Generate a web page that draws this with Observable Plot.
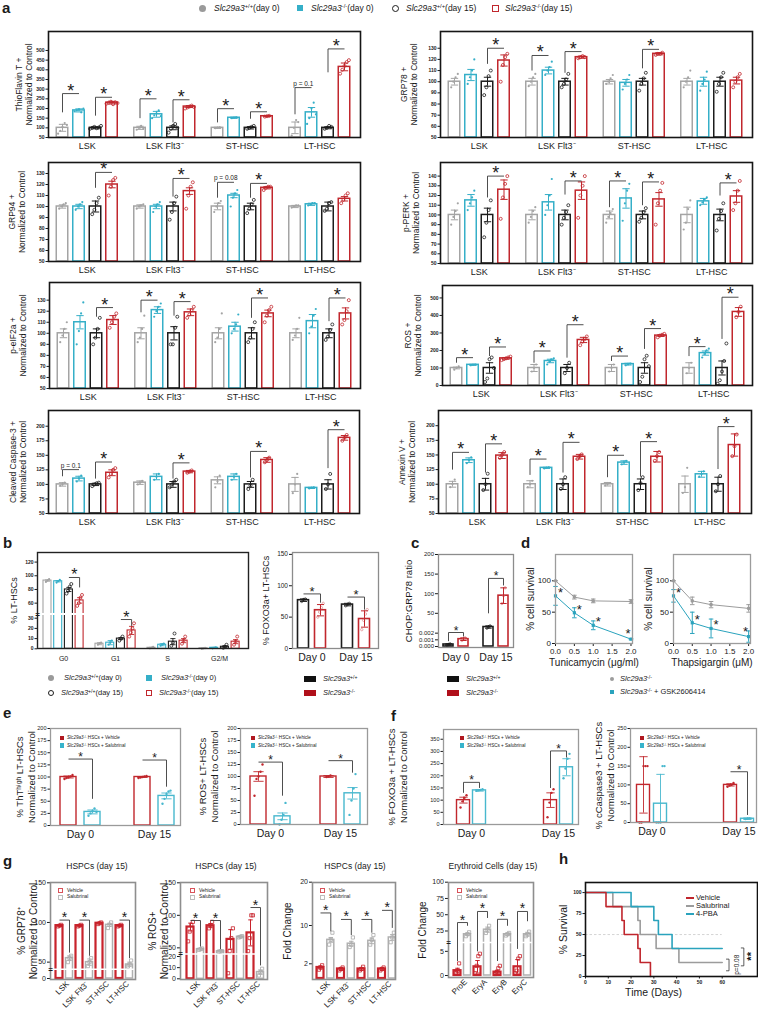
<!DOCTYPE html>
<html><head><meta charset="utf-8">
<script src="https://cdn.jsdelivr.net/npm/d3@7"></script>
<script src="https://cdn.jsdelivr.net/npm/@observablehq/plot@0.6"></script>
<style>
html,body{margin:0;padding:0;background:#fff;}
#fig{position:relative;width:758px;height:1009px;overflow:hidden;background:#fff;font-family:"Liberation Sans",Arial,Helvetica,sans-serif;color:#1a1a1a;}
#fig .pl{position:absolute;}
#fig .pl svg{display:block;overflow:visible;}
.plab{position:absolute;font-weight:bold;font-size:15px;line-height:15px;}
.lg{position:absolute;white-space:nowrap;}
.lg sup{font-size:68%;vertical-align:0.45em;line-height:0;}
.mk{position:absolute;box-sizing:border-box;}
.ttl{position:absolute;white-space:nowrap;transform:translateX(-50%);}
</style></head>
<body><div id="fig"></div>
<script>
// ================= DATA =================
const cellTypes = ["LSK", "LSK Flt3\u207B", "ST-HSC", "LT-HSC"];
// group order: WT day0, KO day0, WT day15, KO day15 ; arrays are [group][cellType]
const thtMean = [[100,100,100,100],[190,170,152,180],[100,100,100,100],[230,210,160,415]];
const thtSem  = [[18,8,3,30],[8,15,3,25],[5,10,6,5],[7,5,2,20]];
const thtPts  = [[[70,85,105,125,115],[90,100,110,95],[98,100,102],[60,100,140,130]],
  [[185,190,195,180,200],[150,165,175,190,160],[150,152,154],[120,150,200,230,170]],
  [[95,100,105,98,102,110],[75,95,110,120,100],[95,100,105,110],[95,100,110,105]],
  [[225,230,235,222,232,228],[200,205,210,215,208],[158,160,162],[380,400,420,440,450]]];
const thtSig = [[0,0,1,277,180,null,"*"],[0,2,3,258,163,null,"*"],[1,0,1,250,150,null,"*"],[1,2,3,245,128,null,"*"],[2,0,1,199,128,null,"*"],[2,2,3,183,147,null,"*"],[3,0,1,308,170,null,"p = 0.1"],[3,2,3,508,387,null,"*"]];

const g78Mean = [[100,100,100,100],[106,110,99,100],[100,100,100,100],[119,122,125,101]];
const g78Sem  = [[3,3,2,3],[5,3,3,4],[4,3,3,4],[5,1,1,3]];
const g78Pts  = [[[95,100,104,107],[96,100,104,107],[98,100,103,106],[95,100,104,110]],
  [[98,104,110,120],[106,110,113,118],[93,98,102,106],[92,98,102,109]],
  [[88,95,105,110],[95,98,102,107],[92,98,103,108],[91,98,104,108]],
  [[100,115,122,125],[121,122,123,122],[124,125,125,126],[95,100,104,107]]];
const g78Sig = [[0,2,3,130,116,null,"*"],[1,0,1,123.5,110,null,"*"],[1,2,3,127,108,null,"*"],[2,2,3,129,112,null,"*"]];

const g94Mean = [[100,100,100,100],[100,100,110,102],[100,100,100,100],[120,114,117,107]];
const g94Sem  = [[1.5,1.5,3,1],[2,2,2,1],[5,4,3,4],[3,3,1,2]];
const g94Pts  = [[[98,100,102,103],[98,100,101,102],[95,100,103,105],[99,100,101,101]],
  [[97,100,102,104],[95,100,102,104],[100,108,112,115],[101,102,103,103]],
  [[93,97,103,108],[88,95,103,109],[94,98,102,106],[96,98,103,104]],
  [[110,118,124,126],[98,110,118,122],[115,117,118,118],[103,106,110,112]]];
const g94Sig = [[0,2,3,131,117,null,"*"],[1,2,3,125.5,109,null,"*"],[2,0,1,122,108,null,"p = 0.08"],[2,2,3,121,108,null,"*"]];

const perkMean = [[100,100,100,100],[115,113,117,114],[100,100,100,100],[126,125,116,119]];
const perkSem  = [[5,5,4,8],[6,8,10,3],[7,5,4,6],[10,9,7,6]];
const perkPts  = [[[90,98,104,112],[92,98,104,108],[92,98,102,106],[85,92,106,115]],
  [[105,112,118,125],[100,110,120,137],[94,112,125,132],[110,113,116,118]],
  [[77,92,105,115],[90,97,103,110],[93,97,103,107],[84,96,104,112]],
  [[96,118,132,140],[97,120,130,140],[90,112,125,133],[105,112,125,135]]];
const perkSig = [[0,2,3,140,118,null,"*"],[1,2,3,135,121,null,"*"],[2,0,1,135,108,null,"*"],[2,2,3,134,110,null,"*"],[3,2,3,133,120,null,"*"]];

const eifMean = [[100,100,100,100],[110,121,106,111],[100,100,100,100],[112,119,118,118]];
const eifSem  = [[4,5,5,4],[6,3,4,6],[4,6,5,4],[4,3,3,5]];
const eifPts  = [[[92,98,104,110],[92,96,104,116],[92,96,104,118],[94,98,104,114]],
  [[90,102,118,128],[115,120,124,127],[100,104,108,117],[100,106,116,122]],
  [[90,96,104,114],[90,90,105,115],[92,96,104,110],[94,97,103,108]],
  [[105,110,115,118],[114,117,121,124],[110,116,121,124],[108,112,120,130]]];
const eifSig = [[0,2,3,123.3,115,null,"*"],[1,0,1,130,119,null,"*"],[1,2,3,128.7,116,null,"*"],[2,2,3,132,114,null,"*"],[3,2,3,132,111,null,"*"]];

const rosMean = [[100,100,100,100],[118,140,122,185],[100,100,100,100],[155,260,285,420]];
const rosSem  = [[5,20,20,30],[3,10,5,12],[30,20,30,40],[5,15,5,25]];
const rosPts  = [[[90,100,110],[80,100,120],[80,100,120],[70,100,130]],
  [[115,118,120],[120,135,150,155],[115,120,125],[160,180,200,210]],
  [[20,40,150,160,100],[70,100,130],[20,50,150,170,110],[10,30,80,140,240]],
  [[145,150,155,160,165],[230,250,265,280],[275,285,290,295],[390,420,450]]];
const rosSig = [[0,0,1,159,130,null,"*"],[0,2,3,220,168,null,"*"],[1,0,1,197,130,null,"*"],[1,2,3,347,159,null,"*"],[2,0,1,168,140,null,"*"],[2,2,3,325,209,null,"*"],[3,0,1,222,168,null,"*"],[3,2,3,504,266,null,"*"]];

const casMean = [[100,103,107,100],[110,113,113,94],[100,100,100,100],[120,122,142,180]];
const casSem  = [[3,3,6,12],[4,5,5,1],[2,5,5,8],[5,2,4,4]];
const casPts  = [[[98,100,103],[100,103,106],[95,105,115],[85,100,118]],
  [[105,110,115],[108,113,118],[108,113,118],[93,94,95]],
  [[97,100,102,103],[95,100,105,108],[92,98,108],[92,100,118]],
  [[112,118,125,128],[120,122,124],[138,142,146],[175,180,185]]];
const casSig = [[0,0,1,125.4,114,null,"p = 0.1"],[0,2,3,138.5,110,null,"*"],[1,2,3,137,110,null,"*"],[2,2,3,156.7,112,null,"*"],[3,2,3,194,128,null,"*"]];

const annMean = [[100,100,100,100],[141,128,137,117],[100,100,100,100],[149,147,147,167]];
const annSem  = [[5,6,3,14],[4,1,3,5],[10,9,9,12],[5,4,9,19]];
const annPts  = [[[95,100,108],[95,100,106],[98,100,102],[85,95,128]],
  [[136,141,146],[127,128,129],[134,137,140],[113,117,122]],
  [[90,100,118],[92,100,112],[90,102,112],[88,100,114]],
  [[145,150,155],[143,147,151],[140,148,155],[148,165,185]]];
const annSig = [[0,0,1,154.5,125,null,"*"],[0,2,3,169,120,null,"*"],[1,0,1,143,116,null,"*"],[1,2,3,171.6,120,null,"*"],[2,0,1,149.5,112,null,"*"],[2,2,3,172.8,113,null,"*"],[3,2,3,198.5,126,null,"*"]];

// panel b
const phases = ["G0", "G1", "S", "G2/M"];
const ccMean = [[93,5,1,0.5],[92,6,4,1],[80,10,7,2],[64,18,8,7]];
const ccSem  = [[1,1,0.5,0.3],[1,2,1,0.4],[3,1,3,1],[4,4,2,2]];
const ccPts  = [[[91,93,95],[4,5,6],[0.5,1,2],[0,0.5,1]],
  [[90,92,94],[4,6,8],[3,4,5],[0.5,1,1.5]],
  [[74,78,84,88],[8,10,12],[3,6,15],[1,2,4]],
  [[56,60,68,72],[12,16,20,25],[5,8,12],[4,7,12]]];
const ccSig = [[0,2,3,97.5,null,83,"*"],[1,2,3,28.7,null,22.5,"*"]];

const days = ["Day 0", "Day 15"];
const foxMean = [[77,70],[61,47]];
const foxSem  = [[2,2],[9,13]];
const foxPts  = [[[75,78,79],[68,70,72]],[[50,58,65,72],[30,45,55,62]]];
const foxSig  = [[0,0,1,87,null,73,"*"],[1,0,1,82,null,62,"*"]];

// panel c
const chopMean = [[0.0003,15],[0.0011,95]];
const chopSem  = [[0.0001,3],[0.0002,20]];
const chopPts  = [[[0.0002,0.0003,0.0004],[12,15,18]],[[0.0009,0.0011,0.0013],[75,95,115]]];
const chopSig  = [[0,0,1,0.0021,0.0008,0.0015,"*"],[1,0,1,139,50,121,"*"]];

// panel d
const doses = [0, 0.5, 1.0, 2.0];
const doseTicks = [0, 0.5, 1.0, 1.5, 2.0];
const tuniKO = [100,74,68,67], tuniKOsem = [0,3,3,3];
const tuniGSK = [76,49,29,7], tuniGSKsem = [15,8,7,1];
const thapKO = [100,68,62,56], thapKOsem = [0,6,5,6];
const thapGSK = [76,33,24,11], thapGSKsem = [10,17,15,9];

// panel e
const thtSalMean = [[100,100],[28,61]];
const thtSalSem  = [[2,1],[4,6]];
const thtSalPts  = [[[96,98,99,101,104],[98,99,100,101,102]],[[20,25,30,35,28],[45,55,65,70,72]]];
const thtSalSig  = [[0,0,1,137,null,55,"*"],[1,0,1,135,null,80,"*"]];
const rosSalMean = [[100,100],[17,65]];
const rosSalSem  = [[10,2],[7,12]];
const rosSalPts  = [[[60,95,100,110,125],[99,100,102]],[[0,10,20,45],[20,50,75,105]]];
const rosSalSig  = [[0,0,1,130,null,60,"*"],[1,0,1,133,null,108,"*"]];

// panel f
const foxSalMean = [[100,100],[140,235]];
const foxSalSem  = [[12,30],[3,35]];
const foxSalPts  = [[[70,95,110,120],[30,90,130,145]],[[138,140,142,145],[190,230,270,290]]];
const foxSalSig  = [[0,0,1,173,130,150,"*"],[1,0,1,302,150,275,"*"]];
const casSalMean = [[100,100],[50,10]];
const casSalSem  = [[75,3],[78,2]];
const casSalPts  = [[[0,0,150,150,150],[95,98,100,105]],[[0,0,0,150,150],[9,10,11]]];
const casSalSig  = [[1,0,1,135,null,20,"*"]];

// panel g  ([vehicle, salubrinal][cell type])
const hspc = ["LSK", "LSK Flt3\u207B", "ST-HSC", "LT-HSC"];
const ery = ["ProE", "EryA", "EryB", "EryC"];
const gGrpMean = [[96,96,99,96],[55,50,97,47]];
const gGrpSem  = [[1,1,1,1],[3,4,2,3]];
const gGrpPts  = [[[95,96,97],[95,96,97],[98,99,100],[95,96,97]],[[50,55,58],[45,50,55],[93,97,100],[43,47,52]]];
const gGrpSig  = [[0,0,1,103,null,62,"*"],[1,0,1,103,null,58,"*"],[3,0,1,103,null,55,"*"]];
const gRosMean = [[82,84,63,73],[48,44,67,6]];
const gRosSem  = [[6,3,15,20],[1,1,1,2]];
const gRosPts  = [[[60,75,85,90],[80,85,90],[5,45,65,80],[45,65,100,100]],[[47,48,49],[43,44,45],[66,67,68],[3,6,9]]];
const gRosSig  = [[0,0,1,92,null,52,"*"],[1,0,1,92,null,48,"*"],[3,0,1,112,null,12,"*"]];
const gFcMean = [[1.5,1.3,1.3,1.3],[7,6.2,6.8,7.5]];
const gFcSem  = [[0.2,0.2,0.2,0.2],[0.5,0.5,0.6,0.6]];
const gFcPts  = [[[1.2,1.5,1.8],[1.1,1.3,1.5],[1.1,1.3,1.6],[1.1,1.3,1.5]],[[6,7,8.5],[5.5,6,7.5],[6,7,8],[6.5,7.5,8.5]]];
const gFcSig  = [[0,0,1,12.9,null,8.8,"*"],[1,0,1,11.4,null,8,"*"],[2,0,1,11.4,null,8.5,"*"],[3,0,1,13.5,null,9.5,"*"]];
const gEryMean = [[1,1.8,0.7,1.8],[20,27,20,20]];
const gErySem  = [[0.5,1.3,0.4,1.5],[2,4,2,3]];
const gEryPts  = [[[0.5,1,2.5],[0.5,2,4,4.5],[0.3,0.7,1.5,2],[0.5,1,3.5,4]],[[17,20,23],[22,27,33],[18,20,22],[17,20,24]]];
const gErySig  = [[0,0,1,38,3,33,"*"],[1,0,1,55,5,45,"*"],[2,0,1,43,3,33,"*"],[3,0,1,55,5.5,40,"*"]];

// panel h (Kaplan-Meier)
const vehT = [0,9,16,17,23,24,28.5], vehS = [100,83.3,66.7,50,33.3,16.7,0];
const salT = [0,12,23,24,31,41,60],  salS = [100,83.3,66.7,50,33.3,16.7,16.7];
const pbaT = [0,20,30,32,38,60],     pbaS = [100,83.3,66.7,50,33.3,33.3];

// ticks
const tkTht = [50,100,150,200,250,300,350,400,450,500];
const tk130 = [50,60,70,80,90,100,110,120,130];
const tk140 = [50,60,70,80,90,100,110,120,130,140];
const tkRos = [0,100,200,300,400,500];
const tk25  = [50,75,100,125,150,175,200];

// ================= STYLE =================
const GREY = "#a4a4a4", TEAL = "#35afc8", BLK = "#1c1c1c", RED = "#c1272d";
const FONT = "'Liberation Sans', Arial, Helvetica, sans-serif";
const fig = document.getElementById("fig");

function place(node, left, top) {
  const d = document.createElement("div");
  d.className = "pl"; d.style.left = left + "px"; d.style.top = top + "px";
  d.appendChild(node); fig.appendChild(d);
}
function txt(x, yc, html, fs) {
  const d = document.createElement("div");
  d.className = "lg";
  d.style.left = x + "px"; d.style.top = (yc - fs * 0.62) + "px";
  d.style.fontSize = fs + "px"; d.style.lineHeight = (fs * 1.2) + "px";
  d.innerHTML = html; fig.appendChild(d);
}
function mk(kind, cx, cy, color, size) {
  const d = document.createElement("div");
  d.className = "mk";
  let w = size, h = size;
  if (kind === "rect") { w = size * 1.9; h = size * 0.85; }
  if (kind === "line") { w = size * 1.4; h = 2; }
  d.style.left = (cx - w / 2) + "px"; d.style.top = (cy - h / 2) + "px";
  d.style.width = w + "px"; d.style.height = h + "px";
  if (kind === "dot" || kind === "odot") d.style.borderRadius = "50%";
  if (kind[0] === "o") d.style.border = "1.6px solid " + color; else d.style.background = color;
  fig.appendChild(d);
}
function ttl(cx, yc, html, fs) {
  const d = document.createElement("div");
  d.className = "ttl"; d.style.left = cx + "px"; d.style.top = (yc - fs * 0.62) + "px";
  d.style.fontSize = fs + "px"; d.style.lineHeight = (fs * 1.2) + "px"; d.innerHTML = html;
  fig.appendChild(d);
}
function plab(ch, x, y) {
  const d = document.createElement("div");
  d.className = "plab"; d.style.left = x + "px"; d.style.top = y + "px"; d.textContent = ch;
  fig.appendChild(d);
}
const S = sup => `<i>Slc29a3</i><sup>${sup}</sup>`;

// ================= BAR PANEL HELPER =================
function barPanel(P) {
  const [x0, y0, x1, y1] = P.frame;
  const mL = P.mL, mT = P.mT ?? 14, mR = P.mR ?? 12, mB = P.mB ?? 30;
  const fw = x1 - x0, fh = y1 - y0, top = y0 - mT;
  const u = P.unit, pU = P.pitch / u;
  const pos = (c, g) => c * pU + g;
  const nG = P.means.length, nC = P.cats.length;
  // broken (piecewise) axes: data value -> page position, fed to a linear Plot scale
  let fy = v => v, ydom = P.ydomain, yt = P.yticks;
  const baseFmt = P.tickFormat ?? (d => String(d));
  let tf = baseFmt;
  if (P.yrange) {
    const D = P.ydomain, R = P.yrange;
    const interp = v => { let i = 0; while (i < D.length - 2 && v > D[i + 1]) i++; return R[i] + (v - D[i]) / (D[i + 1] - D[i]) * (R[i + 1] - R[i]); };
    fy = v => -interp(v);
    ydom = [-y1, -y0];
    yt = P.yticks.map(fy);
    tf = d => { let best = P.yticks[0], bd = Infinity; for (const t of P.yticks) { const dd = Math.abs(fy(t) - d); if (dd < bd) { bd = dd; best = t; } } return baseFmt(best); };
  }
  const yb = fy(P.ydomain[0]);
  const hb = P.bw / u / 2, cap = (P.cap ?? P.bw * 0.32) / u, jit = (P.jit ?? 2) / u;
  const barM = [], errM = [], dotM = [];
  for (let g = 0; g < nG; g++) {
    const st = P.styles[g];
    const bars = [], pts = [];
    for (let c = 0; c < nC; c++) {
      const m = P.means[g][c], s = P.sems[g][c], x = pos(c, g);
      bars.push({x, m: fy(m), lo: fy(Math.max(m - s, P.ydomain[0])), hi: fy(m + s)});
      const arr = P.points ? P.points[g][c] : [];
      arr.forEach((v, k) => pts.push({x: x + (k - (arr.length - 1) / 2) * jit, v: fy(v)}));
    }
    barM.push(Plot.rect(bars, {x1: d => d.x - hb, x2: d => d.x + hb, y1: () => yb, y2: "m", fill: "white", stroke: st.color, strokeWidth: st.sw ?? P.sw ?? 1.3}));
    dotM.push(Plot.dot(pts, {x: "x", y: "v", r: st.r ?? 1.2, fill: st.fill, stroke: st.stroke, strokeWidth: st.dsw ?? 0.8, symbol: st.symbol ?? "circle"}));
    const ec = st.ecolor ?? st.color, ew = P.ew ?? 1;
    errM.push(Plot.ruleX(bars, {x: "x", y1: "lo", y2: "hi", stroke: ec, strokeWidth: ew}));
    errM.push(Plot.link(bars, {x1: d => d.x - cap, x2: d => d.x + cap, y1: "hi", y2: "hi", stroke: ec, strokeWidth: ew}));
    errM.push(Plot.link(bars, {x1: d => d.x - cap, x2: d => d.x + cap, y1: "lo", y2: "lo", stroke: ec, strokeWidth: ew}));
  }
  const segs = [], stars = [], ptxt = [];
  for (const [c, g1, g2, yv, l1, l2, t] of (P.sig || [])) {
    const xa = pos(c, g1), xb = pos(c, g2), y = fy(yv);
    segs.push({x1: xa, y1: y, x2: xb, y2: y});
    if (l1 != null) segs.push({x1: xa, y1: y, x2: xa, y2: fy(l1)});
    if (l2 != null) segs.push({x1: xb, y1: y, x2: xb, y2: fy(l2)});
    (t.startsWith("p") ? ptxt : stars).push({x: (xa + xb) / 2, y, t});
  }
  const catRows = P.cats.map((name, c) => ({name, x: (pos(c, 0) + pos(c, nG - 1)) / 2}));
  const marks = [...barM];
  if (P.brk != null) marks.push(Plot.ruleY([fy(P.brk)], {stroke: "white", strokeWidth: P.brkW ?? 2.5}));
  marks.push(...dotM, ...errM);
  marks.push(Plot.link(segs, {x1: "x1", y1: "y1", x2: "x2", y2: "y2", stroke: P.bc ?? "#3a3a3a", strokeWidth: P.bsw ?? 0.9}));
  marks.push(Plot.text(stars, {x: "x", y: "y", text: "t", fontSize: P.starSize ?? 18, lineAnchor: "bottom", dy: P.starDy ?? 3, fontWeight: "normal", dx: P.starDx ?? 0}));
  marks.push(Plot.text(ptxt, {x: "x", y: "y", text: "t", fontSize: P.pSize ?? 6.5, lineAnchor: "bottom", dy: -2, fontWeight: "normal"}));
  marks.push(Plot.frame({stroke: P.frameColor ?? "#161616", strokeWidth: P.frameW ?? 1.6}));
  if (P.brk != null) marks.push(Plot.text(["="], {frameAnchor: "left", textAnchor: "middle", y: () => fy(P.brk), text: d => d, fontSize: 8, fontWeight: "bold"}));
  marks.push(Plot.text(catRows, {x: "x", frameAnchor: "bottom", text: "name", dy: P.cdy ?? 11, dx: P.cdx ?? 0, fontSize: P.cfs ?? 9, rotate: P.crot ?? 0, textAnchor: P.crot ? "end" : "middle", fontWeight: "normal"}));
  marks.push(Plot.text([P.ylabel], {frameAnchor: "left", textAnchor: "middle", text: d => d, rotate: -90, dx: P.ldx, fontSize: P.lfs ?? 8.5, lineHeight: 1.18, fontWeight: "normal"}));
  const svg = Plot.plot({
    width: fw + mL + mR, height: fh + mT + mB,
    marginLeft: mL, marginRight: mR, marginTop: mT, marginBottom: mB,
    style: `font-family:${FONT};font-size:${P.tfs ?? 5}px;font-weight:${P.tfw ?? "normal"};background:transparent;overflow:visible;max-width:none;color:#1a1a1a;`,
    x: {domain: [-P.offset / u, (fw - P.offset) / u], axis: null},
    y: {domain: ydom, ticks: yt, tickFormat: tf, tickSize: P.tickSize ?? 2.5, tickPadding: 1.5, label: null},
    marks
  });
  place(svg, x0 - mL, top);
}

// ================= PANEL a =================
const stylesA = [
  {color: GREY, fill: GREY, stroke: "none", r: 1.1},
  {color: TEAL, fill: TEAL, stroke: "none", r: 1.1},
  {color: BLK, fill: "none", stroke: BLK, r: 1.5, dsw: 0.8},
  {color: RED, fill: "none", stroke: RED, r: 1.5, dsw: 0.8}];
const aBase = {cats: cellTypes, styles: stylesA, unit: 16.5, offset: 14, pitch: 77.5, bw: 11.5, sw: 1.5, jit: 2.2, tfs: 5, tfw: "bold", cdy: 11, cfs: 9, lfs: 8.5, starSize: 18};
barPanel({...aBase, frame: [48,31,360,137], mL: 48, ydomain: [50,598], yticks: tkTht, ylabel: "ThioFlavin T +\nNormalized to Control", ldx: -25, means: thtMean, sems: thtSem, points: thtPts, sig: thtSig});
barPanel({...aBase, frame: [440,31,752,137], mL: 60, ydomain: [50,145], yticks: tk130, ylabel: "GRP78 +\nNormalized to Control", ldx: -32, means: g78Mean, sems: g78Sem, points: g78Pts, sig: g78Sig});
barPanel({...aBase, frame: [48,162,360,261], mL: 48, ydomain: [50,140], yticks: tk130, ylabel: "GRP94 +\nNormalized to Control", ldx: -32, means: g94Mean, sems: g94Sem, points: g94Pts, sig: g94Sig});
barPanel({...aBase, frame: [440,162,752,263], mL: 60, ydomain: [50,154], yticks: tk140, ylabel: "p-PERK +\nNormalized to Control", ldx: -30, means: perkMean, sems: perkSem, points: perkPts, sig: perkSig});
barPanel({...aBase, frame: [49,282,360,388], mL: 49, ydomain: [50,146], yticks: tk130, ylabel: "p-eIF2a +\nNormalized to Control", ldx: -32, means: eifMean, sems: eifSem, points: eifPts, sig: eifSig});
barPanel({...aBase, frame: [442,285,752,385], mL: 62, ydomain: [0,571], yticks: tkRos, ylabel: "ROS +\nNormalized to Control", ldx: -30, means: rosMean, sems: rosSem, points: rosPts, sig: rosSig});
barPanel({...aBase, frame: [48,410,359,513], mL: 48, ydomain: [50,227], yticks: tk25, ylabel: "Cleaved Caspase-3 +\nNormalized to Control", ldx: -31, means: casMean, sems: casSem, points: casPts, sig: casSig});
barPanel({...aBase, frame: [438,410,751,513], mL: 58, ydomain: [50,226], yticks: tk25, ylabel: "Annexin V +\nNormalized to Control", ldx: -31.5, means: annMean, sems: annSem, points: annPts, sig: annSig});

// ================= PANEL b =================
barPanel({cats: phases, styles: stylesA, unit: 10.7, offset: 10, pitch: 52, bw: 8, sw: 1.1, jit: 1.6, tfs: 5, tfw: "bold", cdy: 12, cfs: 7, lfs: 9, starSize: 16, ew: 0.9,
  frame: [37,552,248,648], mL: 37, ydomain: [0,30,50,134], yrange: [648.3,617.7,609.5,552], yticks: [0,10,20,30,60,80,100,120],
  brk: 40, brkW: 2, frameColor: "#222", frameW: 1.4,
  ylabel: "% LT-HSCs", ldx: -24, means: ccMean, sems: ccSem, points: ccPts, sig: ccSig});

const stylesFox = [{color: BLK, fill: "none", stroke: BLK, r: 1.2, dsw: 0.6}, {color: RED, fill: "none", stroke: "#d9777b", r: 1.2, dsw: 0.6}];
barPanel({cats: days, styles: stylesFox, unit: 17, offset: 11, pitch: 44, bw: 11, sw: 1.6, jit: 1.8, tfs: 6.5, cdy: 12, cfs: 10.5, lfs: 9, starSize: 13, starDy: 2,
  frame: [292,552,378,648], mL: 50, ydomain: [0,153], yticks: [0,50,100,150], frameColor: "#8c8c8c", frameW: 1.3, tickSize: 3,
  ylabel: "% FOXO3a+ LT-HSCs", ldx: -27, means: foxMean, sems: foxSem, points: foxPts, sig: foxSig});

// ================= PANEL c =================
barPanel({cats: days, styles: stylesFox, unit: 15, offset: 10, pitch: 40, bw: 10, sw: 1.6, jit: 1.6, tfs: 6, cdy: 13, cfs: 10.5, lfs: 9.5, starSize: 12, starDy: 2,
  frame: [438,554,513,647], mL: 52, ydomain: [0,0.0024,10,200], yrange: [646,630,628.5,554], yticks: [0,0.001,0.002,50,100,150,200],
  tickFormat: d => d < 1 ? d.toFixed(3) : String(d), frameColor: "#8c8c8c", frameW: 1.3, tickSize: 3,
  ylabel: "CHOP:GRP78 ratio", ldx: -30, means: chopMean, sems: chopSem, points: chopPts, sig: chopSig});

// ================= PANEL d =================
function dosePanel(P) {
  const [x0, y0, x1, y1] = P.frame, mL = 42, mT = 10, mR = 10, mB = 32;
  const rows = (means, sems) => doses.map((d, i) => ({d, m: means[i], lo: means[i] - sems[i], hi: means[i] + sems[i]}));
  const G = rows(P.gm, P.gs), T = rows(P.tm, P.ts);
  const capW = 0.06;
  const marks = [];
  for (const [R, c, sym] of [[G, "#9c9c9c", "circle"], [T, "#2aa3bd", "square"]]) {
    marks.push(Plot.line(R, {x: "d", y: "m", stroke: c, strokeWidth: 1}));
    marks.push(Plot.ruleX(R, {x: "d", y1: "lo", y2: "hi", stroke: c, strokeWidth: 1}));
    marks.push(Plot.link(R, {x1: r => r.d - capW, x2: r => r.d + capW, y1: "hi", y2: "hi", stroke: c}));
    marks.push(Plot.link(R, {x1: r => r.d - capW, x2: r => r.d + capW, y1: "lo", y2: "lo", stroke: c}));
    marks.push(Plot.dot(R, {x: "d", y: "m", r: 1.8, fill: c, symbol: sym}));
  }
  marks.push(Plot.text(T.slice(0, 3), {x: "d", y: "m", text: () => "*", fontSize: 13, lineAnchor: "bottom", dx: 5, dy: 1}));
  marks.push(Plot.text(T.slice(3), {x: "d", y: "m", text: () => "*", fontSize: 13, lineAnchor: "bottom", dx: -3, dy: -1}));
  marks.push(Plot.frame({stroke: "#9c9c9c", strokeWidth: 1.3}));
  marks.push(Plot.text([P.xlabel], {frameAnchor: "bottom", textAnchor: "middle", text: d => d, dy: 22, fontSize: 10}));
  marks.push(Plot.text([P.ylabel], {frameAnchor: "left", textAnchor: "middle", text: d => d, rotate: -90, dx: P.ldx, fontSize: 10}));
  const svg = Plot.plot({
    width: x1 - x0 + mL + mR, height: y1 - y0 + mT + mB, marginLeft: mL, marginRight: mR, marginTop: mT, marginBottom: mB,
    style: `font-family:${FONT};font-size:8px;background:transparent;overflow:visible;max-width:none;color:#1a1a1a;`,
    x: {domain: P.xdomain, ticks: doseTicks, tickFormat: d => d.toFixed(1), tickSize: 3, tickPadding: 1.5, label: null},
    y: {domain: [0, 142], ticks: [0, 50, 100], tickSize: 3, tickPadding: 1.5, label: null},
    marks
  });
  place(svg, x0 - mL, y0 - mT);
}
dosePanel({frame: [555,554,632,643], xdomain: [0, 2.04], gm: tuniKO, gs: tuniKOsem, tm: tuniGSK, ts: tuniGSKsem, xlabel: "Tunicamycin (\u03BCg/ml)", ylabel: "% cell survival", ldx: -25});
dosePanel({frame: [673,554,750,643], xdomain: [0, 2.05], gm: thapKO, gs: thapKOsem, tm: thapGSK, ts: thapGSKsem, xlabel: "Thapsigargin (\u03BCM)", ylabel: "% cell survival", ldx: -25});

// ================= PANEL e / f =================
const stylesE = [{color: RED, fill: RED, stroke: "none", r: 1.2}, {color: "#48b8ce", fill: "#48b8ce", stroke: "none", r: 1.2}];
const efBase = {cats: days, styles: stylesE, sw: 1.4, jit: 2, tfs: 5.5, cdy: 12, cfs: 10.5, lfs: 9.5, starSize: 12, starDy: 2, frameColor: "#9a9a9a", frameW: 1.3, ew: 0.9};
barPanel({...efBase, unit: 24, offset: 18, pitch: 74, bw: 16, frame: [50,728,180,825], mL: 50, ydomain: [0,200], yticks: [0,25,50,75,100,125,150,175,200],
  ylabel: "% ThT\u02B0\u2071\u1D4D\u02B0 LT-HSCs\nNormalized to Control", ldx: -25, means: thtSalMean, sems: thtSalSem, points: thtSalPts, sig: thtSalSig});
barPanel({...efBase, unit: 24, offset: 18, pitch: 70, bw: 16, frame: [240,728,367,824], mL: 50, ydomain: [0,200], yticks: [0,25,50,75,100,125,150,175,200],
  ylabel: "% ROS+ LT-HSCs\nNormalized to Control", ldx: -32, means: rosSalMean, sems: rosSalSem, points: rosSalPts, sig: rosSalSig});
barPanel({...efBase, unit: 16, offset: 20, pitch: 87, bw: 13, frame: [443,729,578,824], mL: 60, ydomain: [0,390], yticks: [0,50,100,150,200,250,300,350],
  ylabel: "% FOXO3a + LT-HSCs\nNormalized to Control", ldx: -46, means: foxSalMean, sems: foxSalSem, points: foxSalPts, sig: foxSalSig});
barPanel({...efBase, unit: 17, offset: 13, pitch: 87, bw: 13, mR: 2, frame: [630,728,756,822], mL: 40, ydomain: [0,250], yticks: [0,50,100,150,200,250],
  ylabel: "% cCaspase3 + LT-HSCs\nNormalized to Control", ldx: -26, means: casSalMean, sems: casSalSem, points: casSalPts, sig: casSalSig});

// ================= PANEL g =================
const stylesG = [{color: "#c8232c", fill: "none", stroke: "#c8232c", r: 1.8, dsw: 0.8, symbol: "square", sw: 2.2},
                 {color: "#b0b0b0", fill: "none", stroke: "#a8a8a8", r: 1.8, dsw: 0.8, symbol: "square", sw: 1.5}];
const gBase = {styles: stylesG, unit: 10, offset: 9, pitch: 20, bw: 7, jit: 1.6, tfs: 7, cdy: 5, cdx: 5, crot: -45, cfs: 8, lfs: 10, starSize: 14, starDy: 2, frameColor: "#8e8e8e", frameW: 1.6, ew: 1, mB: 36, tickSize: 3};
barPanel({...gBase, cats: hspc, frame: [50,882,135,979], mL: 50, ydomain: [0,5,45,150], yrange: [978,972,965.6,882.3], yticks: [0,50,100,150], brk: 25, brkW: 1.5,
  ylabel: "% GRP78\u207A\nNormalized to Control", ldx: -23, means: gGrpMean, sems: gGrpSem, points: gGrpPts, sig: gGrpSig});
barPanel({...gBase, cats: hspc, offset: 10, frame: [180,882,267,979], mL: 50, ydomain: [0,20,45,150], yrange: [978.3,956,950.6,882.3], yticks: [0,10,20,50,100,150], brk: 32, brkW: 1.5,
  ylabel: "% ROS+\nNormalized to Control", ldx: -22.5, means: gRosMean, sems: gRosSem, points: gRosPts, sig: gRosSig});
barPanel({...gBase, cats: hspc, offset: 8, unit: 10.3, pitch: 20.5, frame: [312,882,395,979], mL: 50, ydomain: [0,2,10,20], yrange: [978,963.3,925,881.7], yticks: [2,10,20],
  ylabel: "Fold Change", ldx: -25, means: gFcMean, sems: gFcSem, points: gFcPts, sig: gFcSig});
barPanel({...gBase, cats: ery, frame: [448,882,533,977], mL: 50, ydomain: [0,6,15,100], yrange: [975,946,937,881.7], yticks: [0,5,25,50,75,100], brk: 10, brkW: 1.5,
  ylabel: "Fold Change", ldx: -26, means: gEryMean, sems: gErySem, points: gEryPts, sig: gErySig});

// ================= PANEL h =================
(function () {
  const x0 = 585, y0 = 882, x1 = 757, y1 = 976, mL = 50, mT = 10, mR = 1, mB = 28;
  const rows = (T, Sv) => T.map((t, i) => ({t, s: Sv[i]}));
  const brs = [{x: 69.5, a: 34, b: 12.7}, {x: 63, a: 20.7, b: 6.8}];
  const marks = [
    Plot.ruleY([50], {x1: () => 0, x2: () => 60, stroke: "#c9c9c9", strokeDasharray: "2.5,2", strokeWidth: 0.8}),
    Plot.line(rows(salT, salS), {x: "t", y: "s", curve: "step-after", stroke: "#9c9c9c", strokeWidth: 1.6}),
    Plot.line(rows(pbaT, pbaS), {x: "t", y: "s", curve: "step-after", stroke: "#2aa3bd", strokeWidth: 1.6}),
    Plot.line(rows(vehT, vehS), {x: "t", y: "s", curve: "step-after", stroke: "#c0262d", strokeWidth: 1.6}),
    Plot.link(brs, {x1: "x", x2: "x", y1: "a", y2: "b", stroke: "#333", strokeWidth: 0.8}),
    Plot.link(brs, {x1: d => d.x - 1.3, x2: "x", y1: "a", y2: "a", stroke: "#333", strokeWidth: 0.8}),
    Plot.link(brs, {x1: d => d.x - 1.3, x2: "x", y1: "b", y2: "b", stroke: "#333", strokeWidth: 0.8}),
    Plot.text([{x: 66.3, y: 14, t: "p=0.08"}], {x: "x", y: "y", text: "t", rotate: -90, fontSize: 6.5, fontWeight: "normal"}),
    Plot.text([{x: 73, y: 24, t: "**"}], {x: "x", y: "y", text: "t", rotate: -90, fontSize: 11, fontWeight: "bold"}),
    Plot.frame({stroke: "#111", strokeWidth: 1.6}),
    Plot.text(["Time (Days)"], {frameAnchor: "bottom", textAnchor: "middle", text: d => d, dy: 19, dx: -18, fontSize: 10.5, fontWeight: "normal"}),
    Plot.text(["% Survival"], {frameAnchor: "left", textAnchor: "middle", text: d => d, rotate: -90, dx: -22, fontSize: 10.5, fontWeight: "normal"})
  ];
  const svg = Plot.plot({
    width: x1 - x0 + mL + mR, height: y1 - y0 + mT + mB, marginLeft: mL, marginRight: mR, marginTop: mT, marginBottom: mB,
    style: `font-family:${FONT};font-size:5px;font-weight:bold;background:transparent;overflow:visible;max-width:none;color:#1a1a1a;`,
    x: {domain: [0, 75.5], ticks: [0,10,20,30,40,50,60], tickSize: 2.5, tickPadding: 1.5, label: null},
    y: {domain: [0, 112], ticks: [0,25,50,75,100], tickSize: 2.5, tickPadding: 1.5, label: null},
    marks
  });
  place(svg, x0 - mL, y0 - mT);
})();

// ================= LEGENDS / LABELS =================
plab("a", 2, 0); plab("b", 3, 535); plab("c", 411, 535); plab("d", 521, 535);
plab("e", 3, 705); plab("f", 391, 708); plab("g", 3, 853); plab("h", 559, 851);

// top legend
mk("dot", 202, 8, "#9a9a9a", 7); txt(214, 8, S("+/+") + "(day 0)", 8.5);
mk("sq", 300, 8, TEAL, 6.5); txt(311, 8, S("-/-") + "(day 0)", 8.5);
mk("odot", 395, 8, BLK, 7); txt(406, 8, S("+/+") + "(day 15)", 8.5);
mk("osq", 495, 8, RED, 7); txt(505, 8, S("-/-") + "(day 15)", 8.5);

// b legends
mk("dot", 51, 678, "#9a9a9a", 6.5); txt(64, 678, S("+/+") + "(day 0)", 7.5);
mk("sq", 149, 678, TEAL, 6); txt(161, 678, S("-/-") + "(day 0)", 7.5);
mk("odot", 51, 693, BLK, 6.5); txt(61, 693, S("+/+") + "(day 15)", 7.5);
mk("osq", 149, 693, RED, 6.5); txt(159, 693, S("-/-") + "(day 15)", 7.5);
mk("rect", 310, 679, "#111", 6); txt(323, 679, S("+/+"), 7.5);
mk("rect", 310, 693, "#b00f1a", 6); txt(323, 693, S("-/-"), 7.5);
// c legend
mk("rect", 453, 679, "#111", 6); txt(466, 679, S("+/+"), 7.5);
mk("rect", 453, 693, "#b00f1a", 6); txt(466, 693, S("-/-"), 7.5);
// d legend
mk("dot", 612, 679, "#9c9c9c", 4); txt(620, 679, S("-/-"), 7.5);
mk("sq", 612, 692, "#2aa3bd", 4.5); txt(620, 692, S("-/-") + " + GSK2606414", 7.5);

// e/f inner legends
for (const [x] of [[62], [253], [462], [642]]) {
  mk("sq", x, 738, "#b01820", 4.5); txt(x + 5, 738, S("-/-") + " HSCs + Vehicle", 4.6);
  mk("sq", x, 745.5, "#36b3cb", 4.5); txt(x + 5, 745.5, S("-/-") + " HSCs + Salubrinal", 4.6);
}
// g inner legends + titles
for (const [x] of [[60], [192], [322], [459]]) {
  mk("osq", x, 890, "#d9535a", 5); txt(x + 7, 890, "Vehicle", 5);
  mk("osq", x, 897, "#bdbdbd", 5); txt(x + 7, 897, "Salubrinal", 4.8);
}
ttl(97, 866, "HSPCs (day 15)", 8.5);
ttl(226, 866, "HSPCs (day 15)", 8.5);
ttl(355, 866, "HSPCs (day 15)", 8.5);
ttl(493, 866, "Erythroid Cells (day 15)", 8.5);
// h legend
mk("line", 690, 898, "#c0262d", 6); txt(696, 898, "Vehicle", 7.5);
mk("line", 690, 906, "#9c9c9c", 6); txt(696, 906, "Salubrinal", 7.5);
mk("line", 690, 914, "#2aa3bd", 6); txt(696, 914, "4-PBA", 7.5);
</script></body></html>
